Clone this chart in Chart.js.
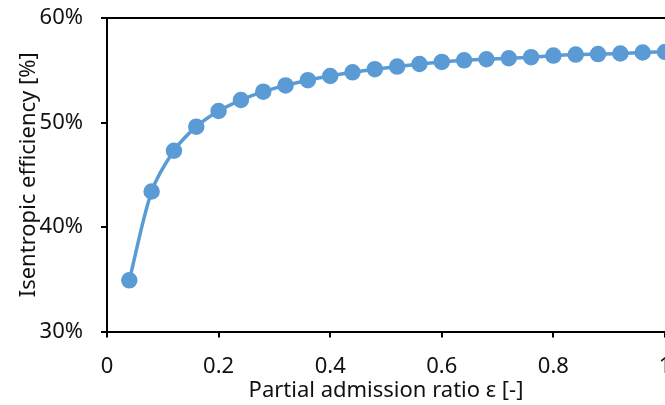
<!DOCTYPE html>
<html>
<head>
<meta charset="utf-8">
<script src="https://cdn.jsdelivr.net/npm/chart.js@4.4.0/dist/chart.umd.min.js"></script>
<style>
html, body { margin: 0; padding: 0; background: #fff; overflow: hidden; }
</style>
</head>
<body>
<canvas id="chart" width="700" height="405"></canvas>
<script>
const ratios = [0.04, 0.08, 0.12, 0.16, 0.20, 0.24, 0.28, 0.32, 0.36, 0.40,
                0.44, 0.48, 0.52, 0.56, 0.60, 0.64, 0.68, 0.72, 0.76, 0.80,
                0.84, 0.88, 0.92, 0.96, 1.00];
const efficiency = [34.9, 43.4, 47.3, 49.6, 51.1, 52.15, 52.95, 53.55, 54.05, 54.45,
                    54.8, 55.1, 55.35, 55.6, 55.8, 55.95, 56.05, 56.15, 56.25, 56.4,
                    56.5, 56.55, 56.6, 56.7, 56.75];
const xTicks = [0, 0.2, 0.4, 0.6, 0.8, 1];
const yTicks = [30, 40, 50, 60];

const lineColor = "#5b9bd5";
const textFont = { family: "Noto Sans", size: 22 };

new Chart(document.getElementById("chart"), {
    type: "line",
    data: {
        datasets: [{
            data: ratios.map((r, i) => ({ x: r, y: efficiency[i] })),
            borderColor: lineColor,
            backgroundColor: lineColor,
            pointBackgroundColor: lineColor,
            pointBorderColor: lineColor,
            borderWidth: 3.5,
            pointRadius: 6.5,
            tension: 0.3,
            clip: false
        }]
    },
    options: {
        responsive: false,
        animation: false,
        layout: { padding: { top: 18, right: 35, left: 0, bottom: 0 } },
        plugins: { legend: { display: false }, tooltip: { enabled: false } },
        scales: {
            x: {
                type: "linear",
                min: 0,
                max: 1,
                afterBuildTicks: s => { s.ticks = xTicks.map(v => ({ value: v })); },
                afterFit: s => { s.height = 73.5; },
                border: { color: "#000", width: 2 },
                grid: { drawOnChartArea: false, color: "#000", tickColor: "#000", tickLength: 6, lineWidth: 2 },
                ticks: { color: "#111", font: textFont, padding: 16, maxRotation: 0,
                         callback: v => String(v) },
                title: { display: true, text: "Partial admission ratio ε [-]", color: "#111",
                         font: textFont, padding: { top: 0, bottom: 1 } }
            },
            y: {
                min: 30,
                max: 60,
                afterBuildTicks: s => { s.ticks = yTicks.map(v => ({ value: v })); },
                afterFit: s => { s.width = 107; s.paddingTop = 0; s.paddingBottom = 0; },
                border: { color: "#000", width: 2 },
                grid: {
                    color: c => c.tick && c.tick.value === 60 ? "#000" : "rgba(0,0,0,0)",
                    tickColor: "#000",
                    tickLength: 6,
                    lineWidth: 2
                },
                ticks: { color: "#111", font: textFont, padding: 18, callback: v => v + "%" },
                title: { display: true, text: "Isentropic efficiency [%]", color: "#111",
                         font: textFont, padding: { top: 16, bottom: 0 } }
            }
        }
    }
});
</script>
</body>
</html>
